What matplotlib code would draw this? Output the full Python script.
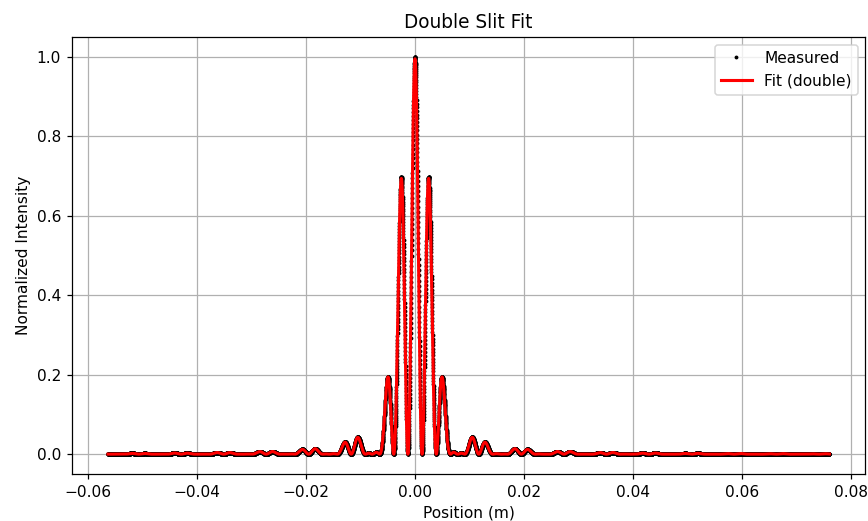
import numpy as np
import matplotlib
matplotlib.use('Agg')
import matplotlib.pyplot as plt

# scan range of the detector along the screen (m)
x_start = -0.0563
x_end = 0.0760
n_samples = 12000

# double-slit fit parameters
fit_amp = 0.995
fit_center = 0.0
envelope_zero = 0.00785   # lambda*L/a, first zero of the single-slit envelope
fringe_period = 0.0026    # lambda*L/d, spacing of the interference fringes

labels = ['Measured', 'Fit (double)']


def double_slit(x, amp, x0, env, per):
    """
    Fraunhofer double-slit intensity: sinc^2 envelope times cos^2 fringes.
    """
    u = x - x0
    return amp * np.sinc(u / env) ** 2 * np.cos(np.pi * u / per) ** 2


position = np.linspace(x_start, x_end, n_samples)
measured = double_slit(position, 1.0, fit_center, envelope_zero, fringe_period)
measured = measured / measured.max()
fit = double_slit(position, fit_amp, fit_center, envelope_zero, fringe_period)

dpi = 111
fig = plt.figure(figsize=(868 / dpi, 521 / dpi), dpi=dpi)
ax = fig.add_axes([0.0829, 0.0902, 0.9142, 0.8388])

ax.plot(position, measured, 'k.', markersize=3, label=labels[0])
ax.plot(position, fit, 'r-', linewidth=2, label=labels[1])

ax.set_xlabel('Position (m)')
ax.set_ylabel('Normalized Intensity')
ax.set_title('Double Slit Fit')
ax.legend(loc='upper right')
ax.grid(True)

fig.savefig('out.png', dpi=dpi)
